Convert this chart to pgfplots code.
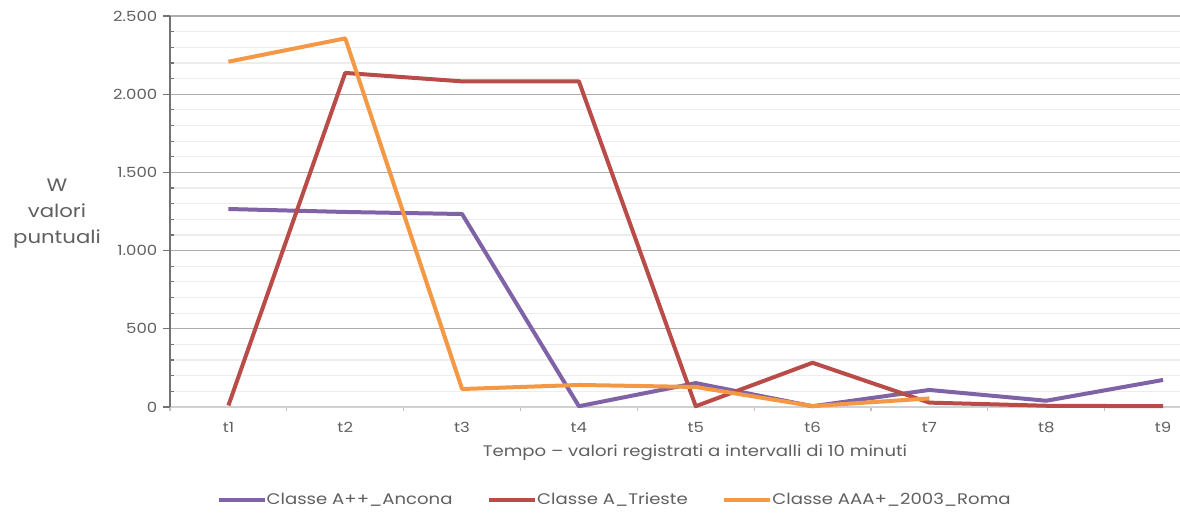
\documentclass[border=0pt]{standalone}
\usepackage{fontspec}
\setmainfont{Poppins}[FakeStretch=1.18]
\usepackage{pgfplots}
\pgfplotsset{compat=1.18}
\definecolor{cPurple}{HTML}{7F63A6}
\definecolor{cRed}{HTML}{B94C48}
\definecolor{cOrange}{HTML}{F59846}
\definecolor{txt}{HTML}{606060}
\begin{document}
\begin{tikzpicture}[x=1pt,y=1pt]
% 1 px of the reference = 0.75pt
\path[use as bounding box] (-127.5,-78.75) rectangle (757.5,305.25);
\begin{axis}[
    scale only axis,
    width=757.5pt, height=293.25pt,
    at={(0,0)}, anchor=south west,
    xmin=0.5, xmax=9.145,
    ymin=0, ymax=2500,
    axis x line=bottom, axis y line=left,
    axis line style={-},
    x axis line style={draw=black!18, line width=0.9pt},
    y axis line style={draw=black!55, line width=0.9pt},
    xtick={1,...,9},
    xticklabels={t1,t2,t3,t4,t5,t6,t7,t8,t9},
    minor xtick={0.5,1.5,...,8.5},
    major x tick style={draw=none},
    minor x tick style={draw=black!25, line width=0.9pt},
    ytick={0,500,...,2500},
    minor y tick num=4,
    major y tick style={draw=black!55, line width=0.9pt},
    minor y tick style={draw=black!55, line width=0.9pt, xshift=3pt},
    tick align=outside,
    major tick length=5pt,
    minor tick length=3pt,
    ymajorgrids, yminorgrids,
    major grid style={draw=black!32, line width=0.9pt},
    minor grid style={draw=black!7, line width=0.9pt},
    scaled y ticks=false,
    /pgf/number format/.cd, 1000 sep={.}, assume math mode=true,
    /pgfplots/.cd,
    ticklabel style={font=\fontsize{10.5}{12}\selectfont, text=txt},
    yticklabel style={xshift=-1pt},
    xticklabel style={yshift=-3pt},
    clip=false,
    legend style={at={(0.4406,-0.2379)}, anchor=center, draw=none,
        font=\fontsize{11.5}{14}\selectfont, text=txt,
        legend columns=3,
        /tikz/every even column/.append style={column sep=24pt},
        /tikz/every odd column/.append style={column sep=-2pt}},
    legend image code/.code={\draw[#1, line width=3pt] (0pt,0pt) -- (34.5pt,0pt);},
    every axis plot/.append style={line width=3pt, line join=round, no markers},
]
\addplot[cPurple] coordinates {
    (1,1266) (2,1247) (3,1234) (4,5) (5,153) (6,5) (7,109) (8,40) (9,173)
};
\addlegendentry{Classe A++\_Ancona}
\addplot[cRed] coordinates {
    (1,10) (2,2136) (3,2082) (4,2082) (5,5) (6,283) (7,28) (8,8) (9,5)
};
\addlegendentry{Classe A\_Trieste}
\addplot[cOrange] coordinates {
    (1,2208) (2,2357) (3,115) (4,141) (5,128) (6,6) (7,55)
};
\addlegendentry{Classe AAA+\_2003\_Roma}
\end{axis}
\node[align=center, font=\fontsize{13.5}{19.5}\selectfont, text=txt] at (-84.75,144.75) {W\\valori\\puntuali};
\node[font=\fontsize{11.5}{14}\selectfont, text=txt] at (393.75,-34.5) {Tempo – valori registrati a intervalli di 10 minuti};
\end{tikzpicture}
\end{document}
